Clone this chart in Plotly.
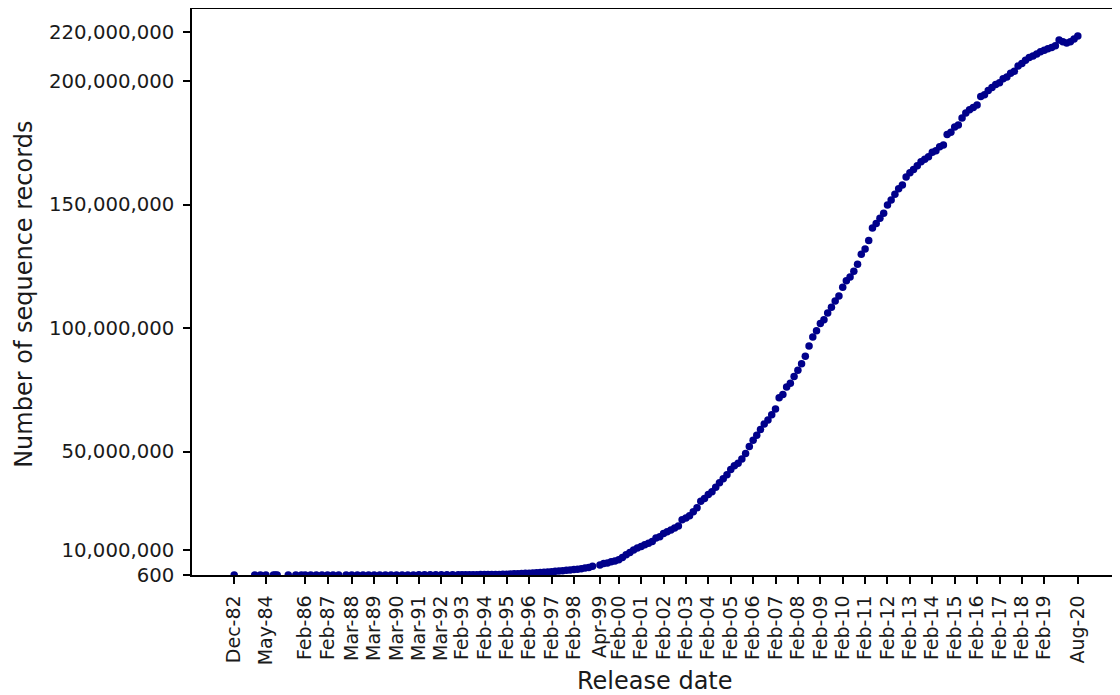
import plotly.graph_objects as go
import pandas as pd

# GenBank releases (month) and number of sequence records
release_dates = [
    "1982-12", "1983-11", "1984-02", "1984-05", "1984-09", "1984-10", "1984-11",
    "1985-05", "1985-09", "1985-12",
    "1986-02", "1986-05", "1986-08", "1986-11",
    "1987-02", "1987-05", "1987-08", "1987-12",
    "1988-03", "1988-06", "1988-09", "1988-12",
    "1989-03", "1989-06", "1989-09", "1989-12",
    "1990-03", "1990-06", "1990-09", "1990-12",
    "1991-03", "1991-06", "1991-09", "1991-12",
    "1992-03", "1992-06", "1992-09", "1992-12",
    "1993-02", "1993-04", "1993-06", "1993-08", "1993-10", "1993-12",
    "1994-02", "1994-04", "1994-06", "1994-08", "1994-10", "1994-12",
    "1995-02", "1995-04", "1995-06", "1995-08", "1995-10", "1995-12",
    "1996-02", "1996-04", "1996-06", "1996-08", "1996-10", "1996-12",
    "1997-02", "1997-04", "1997-06", "1997-08", "1997-10", "1997-12",
    "1998-02", "1998-04", "1998-06", "1998-08", "1998-10", "1998-12",
    "1999-04", "1999-06", "1999-08", "1999-10", "1999-12",
    "2000-02", "2000-04", "2000-06", "2000-08", "2000-10", "2000-12",
    "2001-02", "2001-04", "2001-06", "2001-08", "2001-10", "2001-12",
    "2002-02", "2002-04", "2002-06", "2002-08", "2002-10", "2002-12",
    "2003-02", "2003-04", "2003-06", "2003-08", "2003-10", "2003-12",
    "2004-02", "2004-04", "2004-06", "2004-08", "2004-10", "2004-12",
    "2005-02", "2005-04", "2005-06", "2005-08", "2005-10", "2005-12",
    "2006-02", "2006-04", "2006-06", "2006-08", "2006-10", "2006-12",
    "2007-02", "2007-04", "2007-06", "2007-08", "2007-10", "2007-12",
    "2008-02", "2008-04", "2008-06", "2008-08", "2008-10", "2008-12",
    "2009-02", "2009-04", "2009-06", "2009-08", "2009-10", "2009-12",
    "2010-02", "2010-04", "2010-06", "2010-08", "2010-10", "2010-12",
    "2011-02", "2011-04", "2011-06", "2011-08", "2011-10", "2011-12",
    "2012-02", "2012-04", "2012-06", "2012-08", "2012-10", "2012-12",
    "2013-02", "2013-04", "2013-06", "2013-08", "2013-10", "2013-12",
    "2014-02", "2014-04", "2014-06", "2014-08", "2014-10", "2014-12",
    "2015-02", "2015-04", "2015-06", "2015-08", "2015-10", "2015-12",
    "2016-02", "2016-04", "2016-06", "2016-08", "2016-10", "2016-12",
    "2017-02", "2017-04", "2017-06", "2017-08", "2017-10", "2017-12",
    "2018-02", "2018-04", "2018-06", "2018-08", "2018-10", "2018-12",
    "2019-02", "2019-04", "2019-06", "2019-08", "2019-10", "2019-12",
    "2020-02", "2020-04", "2020-06", "2020-08",
]

sequence_records = [
    606, 2427, 3000, 3665, 4135, 4175, 4393,
    4954, 5700, 6100,
    6642, 7416, 8823, 10913,
    12534, 14020, 15465, 16752,
    18226, 20579, 22479, 23800,
    28791, 33377, 35100, 36000,
    39533, 41057, 46473, 48322,
    51418, 58952, 65100, 70511,
    78608, 83894, 92160, 97084,
    111911, 120134, 131328, 143492, 150744, 162946,
    169896, 182753, 196703, 215273, 237775, 269478,
    352414, 425211, 492483, 555694, 620765, 685693,
    744295, 835487, 920588, 1021211, 1114581, 1192505,
    1274747, 1491069, 1610848, 1765847, 1891953, 2042325,
    2209232, 2355928, 2532359, 2837897, 3043729, 3525418,
    4028171, 4610513, 4864570, 5354511, 5691170,
    6215002, 7077491, 8214339, 9102634, 10106023, 10896781,
    11545572, 12243766, 12813516, 13602262, 14976310, 15465325,
    16769983, 17471130, 18197119, 18989554, 19808101, 22318883,
    23035823, 24027936, 25592865, 27213748, 29819397, 30968418,
    32549400, 33676218, 35532003, 37343937, 38941263, 40604319,
    42734478, 44202133, 45236251, 46947388, 49152445, 52016762,
    54584635, 56620500, 58890345, 61132599, 62765195, 64893747,
    67218344, 71802595, 73078143, 76146236, 77632813, 80388382,
    82853685, 85500730, 88554578, 92748599, 96400790, 98868465,
    101815678, 103335421, 106073709, 108431692, 110946879, 112910950,
    116461672, 119112251, 120604423, 122941883, 125764384, 129902276,
    132015054, 135440924, 140482268, 142284608, 144458648, 146413798,
    149819246, 151824421, 154130210, 156424033, 157889737, 161140325,
    162886727, 164136731, 165740164, 167295840, 168335396, 169331407,
    171123749, 171744486, 173353076, 174108750, 178322253, 179295769,
    181336445, 182188746, 185019352, 187066846, 188372017, 189232925,
    190250235, 193739511, 194463572, 196120831, 197390691, 198565475,
    199341377, 200877884, 201663568, 203180606, 203953682, 206045905,
    207040555, 208452303, 209475348, 210161208, 210927941, 211881415,
    212460377, 213075414, 213583758, 214265349, 216633020, 215914215,
    215363706, 215922233, 217031829, 218242238,
]

tick_dates = [
    "1982-12", "1984-05", "1986-02", "1987-02", "1988-03", "1989-03", "1990-03",
    "1991-03", "1992-03", "1993-02", "1994-02", "1995-02", "1996-02", "1997-02",
    "1998-02", "1999-04", "2000-02", "2001-02", "2002-02", "2003-02", "2004-02",
    "2005-02", "2006-02", "2007-02", "2008-02", "2009-02", "2010-02", "2011-02",
    "2012-02", "2013-02", "2014-02", "2015-02", "2016-02", "2017-02", "2018-02",
    "2019-02", "2020-08",
]
tick_labels = [
    "Dec-82", "May-84", "Feb-86", "Feb-87", "Mar-88", "Mar-89", "Mar-90",
    "Mar-91", "Mar-92", "Feb-93", "Feb-94", "Feb-95", "Feb-96", "Feb-97",
    "Feb-98", "Apr-99", "Feb-00", "Feb-01", "Feb-02", "Feb-03", "Feb-04",
    "Feb-05", "Feb-06", "Feb-07", "Feb-08", "Feb-09", "Feb-10", "Feb-11",
    "Feb-12", "Feb-13", "Feb-14", "Feb-15", "Feb-16", "Feb-17", "Feb-18",
    "Feb-19", "Aug-20",
]

y_tick_vals = [600, 10_000_000, 50_000_000, 100_000_000, 150_000_000, 200_000_000, 220_000_000]
y_tick_text = ["600", "10,000,000", "50,000,000", "100,000,000", "150,000,000",
               "200,000,000", "220,000,000"]

dates = pd.to_datetime([d + "-01" for d in release_dates])
tick_dt = pd.to_datetime([d + "-01" for d in tick_dates])

span = dates.max() - dates.min()
x_range = [dates.min() - span * 0.05, dates.max() + span * 0.05]
ymin, ymax = min(sequence_records), max(sequence_records)
y_range = [ymin, ymax + 0.05 * (ymax - ymin)]

FONT = "DejaVu Sans"
TXT = "#1a1a1a"

# The page body has an 8px default margin; size the figure to fit the window.
FIG_W, FIG_H = 1112, 687
M_L, M_R, M_T, M_B = 184, 0, 1, 120
PLOT_W = FIG_W - M_L - M_R
PLOT_H = FIG_H - M_T - M_B

fig = go.Figure()
fig.add_trace(go.Scatter(
    x=dates, y=sequence_records, mode="markers",
    marker=dict(color="#00008B", size=7.5, line=dict(width=0)),
    showlegend=False,
))

fig.update_layout(
    width=FIG_W, height=FIG_H,
    margin=dict(l=M_L, r=M_R, t=M_T, b=M_B, autoexpand=False),
    paper_bgcolor="white", plot_bgcolor="white",
    font=dict(family=FONT, color=TXT),
    annotations=[
        dict(text="Number of sequence records", textangle=-90,
             xref="paper", yref="paper", x=(16 - M_L) / PLOT_W, y=0.495,
             xanchor="center", yanchor="middle", showarrow=False,
             font=dict(family=FONT, size=24, color=TXT)),
        dict(text="Release date",
             xref="paper", yref="paper", x=(647 - M_L) / PLOT_W,
             y=-(673 - M_T - PLOT_H) / PLOT_H,
             xanchor="center", yanchor="middle", showarrow=False,
             font=dict(family=FONT, size=24, color=TXT)),
    ],
)

fig.update_xaxes(
    type="date", range=x_range,
    tickmode="array", tickvals=tick_dt, ticktext=tick_labels, tickangle=-90,
    ticks="outside", ticklen=7, tickwidth=1.5, tickcolor="black",
    ticklabelstandoff=4,
    tickfont=dict(family=FONT, size=19, color=TXT),
    showgrid=False, zeroline=False,
    showline=True, linewidth=1.5, linecolor="black", mirror=True,
)
fig.update_yaxes(
    range=y_range,
    tickmode="array", tickvals=y_tick_vals, ticktext=y_tick_text,
    ticks="outside", ticklen=7, tickwidth=1.5, tickcolor="black",
    ticklabelstandoff=5,
    tickfont=dict(family=FONT, size=19.7, color=TXT),
    showgrid=False, zeroline=False,
    showline=True, linewidth=1.5, linecolor="black", mirror=True,
)

fig.write_html("out.html")
